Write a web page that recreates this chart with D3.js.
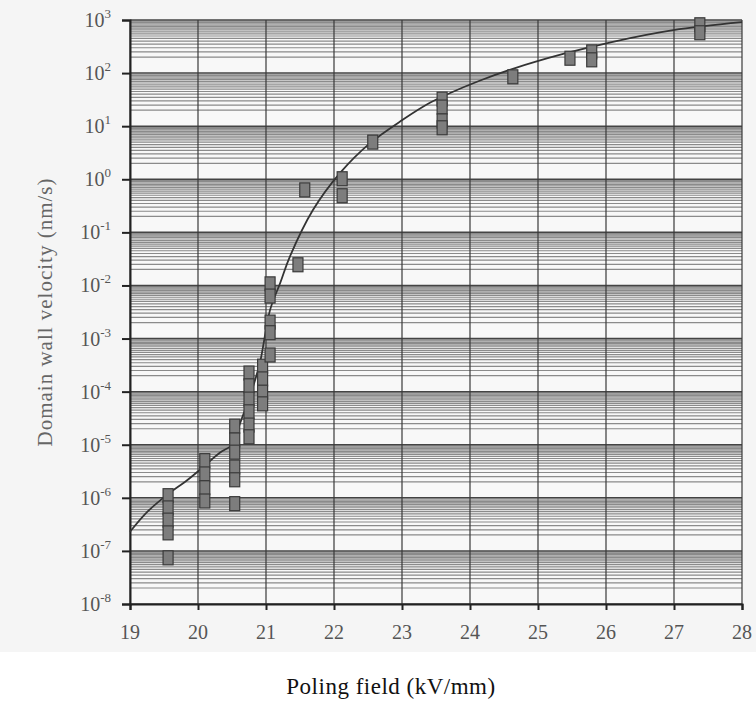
<!DOCTYPE html>
<html>
<head>
<meta charset="utf-8">
<script src="https://cdn.jsdelivr.net/npm/d3@7"></script>
<style>
  body { margin: 0; background: #fff; }
  text { font-family: 'Liberation Serif', 'DejaVu Serif', serif; }
</style>
</head>
<body>
<div id="chart"></div>
<script>
// measured points: poling field (kV/mm) and log10 of velocity (nm/s)
var pointField = [
  19.56, 19.56, 19.56, 19.56, 19.56,
  20.10, 20.10, 20.10, 20.10,
  20.54, 20.54, 20.54, 20.54, 20.54, 20.54,
  20.75, 20.75, 20.75, 20.75, 20.75, 20.75,
  20.95, 20.95, 20.95, 20.95,
  21.06, 21.06, 21.06, 21.06, 21.06,
  21.47, 21.57, 22.12, 22.12, 22.57,
  23.59, 23.59, 23.59, 23.59,
  24.63, 25.47, 25.79, 25.79, 27.38, 27.38
]
var pointLogV = [
  -5.96, -6.19, -6.42, -6.66, -7.13,
  -5.30, -5.55, -5.81, -6.06,
  -4.65, -4.91, -5.14, -5.42, -5.66, -6.11,
  -3.65, -3.89, -4.14, -4.38, -4.63, -4.85,
  -3.52, -3.76, -4.01, -4.23,
  -1.97, -2.20, -2.69, -2.89, -3.31,
  -1.61, -0.20, 0.01, -0.31, 0.70,
  1.51, 1.36, 1.10, 0.97,
  1.93, 2.28, 2.40, 2.25, 2.91, 2.76
]

// fitted curve
var curveField = [19.00, 19.25, 19.54, 19.84, 20.03, 20.32, 20.50, 20.62, 20.76, 20.91,
  21.06, 21.21, 21.35, 21.69, 22.09, 22.53, 23.01, 23.41, 23.70, 24.15, 24.63, 25.37,
  26.10, 26.99, 28.00]
var curveLogV = [-6.64, -6.27, -5.95, -5.67, -5.47, -5.15, -5.00, -4.59, -4.10, -3.46,
  -2.46, -1.95, -1.46, -0.58, 0.12, 0.68, 1.12, 1.44, 1.62, 1.86, 2.08, 2.36,
  2.59, 2.81, 2.96]

var xTicks = [19, 20, 21, 22, 23, 24, 25, 26, 27, 28]
var yExponents = [3, 2, 1, 0, -1, -2, -3, -4, -5, -6, -7, -8]

var svgWidth = 756
var svgHeight = 705

var margin = { top: 20, right: 14, bottom: 101, left: 130 }
var width = svgWidth - margin.left - margin.right
var height = svgHeight - margin.top - margin.bottom

var svg = d3.select('#chart')
  .append('svg')
  .attr('width', svgWidth)
  .attr('height', svgHeight)

// scanned page tint
svg.append('rect')
  .attr('width', svgWidth)
  .attr('height', 652)
  .attr('fill', '#f5f5f5')

var chartGroup = svg.append('g')
  .attr('transform', `translate(${margin.left}, ${margin.top})`)

var x = d3.scaleLinear().domain([19, 28]).range([0, width])
var y = d3.scaleLog().domain([1e-8, 1e3]).range([height, 0])

chartGroup.append('rect')
  .attr('width', width)
  .attr('height', height)
  .attr('fill', '#f8f8f8')

// minor horizontal grid, dense near the top of each decade
var minorVals = []
for (var e = -8; e < 3; e++) {
  for (var m = 2; m < 10; m += 0.5) {
    minorVals.push(m * Math.pow(10, e))
  }
}
chartGroup.append('g')
  .selectAll('line')
  .data(minorVals)
  .enter()
  .append('line')
  .attr('x1', 0)
  .attr('x2', width)
  .attr('y1', d => y(d))
  .attr('y2', d => y(d))
  .attr('stroke', '#6f6f6f')
  .attr('stroke-width', 1.2)
  .attr('stroke-opacity', 0.8)

// decade lines
chartGroup.append('g')
  .selectAll('line')
  .data(yExponents)
  .enter()
  .append('line')
  .attr('x1', 0)
  .attr('x2', width)
  .attr('y1', d => y(Math.pow(10, d)))
  .attr('y2', d => y(Math.pow(10, d)))
  .attr('stroke', '#444')
  .attr('stroke-width', 1.5)

// vertical grid
chartGroup.append('g')
  .selectAll('line')
  .data(xTicks)
  .enter()
  .append('line')
  .attr('x1', d => x(d))
  .attr('x2', d => x(d))
  .attr('y1', 0)
  .attr('y2', height)
  .attr('stroke', '#3a3a3a')
  .attr('stroke-width', 1.2)

// axes
var bottomAxis = d3.axisBottom(x).tickValues(xTicks).tickSize(6).tickFormat('')
var leftAxis = d3.axisLeft(y).tickValues(yExponents.map(d => Math.pow(10, d))).tickSize(8).tickFormat('')

chartGroup.append('g')
  .attr('transform', `translate(0, ${height})`)
  .call(bottomAxis)
chartGroup.append('g')
  .call(leftAxis)

chartGroup.selectAll('.domain').attr('stroke', '#222').attr('stroke-width', 2)
chartGroup.selectAll('.tick line').attr('stroke', '#222').attr('stroke-width', 2)

// x tick labels
chartGroup.selectAll('.xlab')
  .data(xTicks)
  .enter()
  .append('text')
  .attr('x', d => x(d))
  .attr('y', height + 35)
  .style('text-anchor', 'middle')
  .style('font-size', '20px')
  .style('fill', '#555')
  .text(d => d)

// y tick labels, 10 with superscript exponent
var yLab = chartGroup.selectAll('.ylab')
  .data(yExponents)
  .enter()
  .append('text')
  .attr('x', -19)
  .attr('y', d => y(Math.pow(10, d)) + 7)
  .style('text-anchor', 'end')
  .style('font-size', '20px')
  .style('fill', '#555')
yLab.append('tspan').text('10')
yLab.append('tspan')
  .attr('dy', -9)
  .style('font-size', '13px')
  .text(d => d < 0 ? '-' + (-d) : d)

// fitted curve
var curveData = curveField.map((d, i) => ({ f: d, v: Math.pow(10, curveLogV[i]) }))
var line = d3.line()
  .x(d => x(d.f))
  .y(d => y(d.v))
  .curve(d3.curveCatmullRom.alpha(0.5))

chartGroup.append('path')
  .datum(curveData)
  .attr('d', line)
  .attr('fill', 'none')
  .attr('stroke', '#333')
  .attr('stroke-width', 1.8)

// data markers
var pointData = pointField.map((d, i) => ({ f: d, v: Math.pow(10, pointLogV[i]) }))
chartGroup.selectAll('.pt')
  .data(pointData)
  .enter()
  .append('rect')
  .attr('x', d => x(d.f) - 5)
  .attr('y', d => y(d.v) - 7)
  .attr('width', 10)
  .attr('height', 14)
  .attr('fill', '#7d7d7d')
  .attr('stroke', '#3a3a3a')
  .attr('stroke-width', 1.2)

// axis titles
svg.append('text')
  .attr('transform', `translate(52, ${margin.top + height / 2}) rotate(-90)`)
  .style('text-anchor', 'middle')
  .style('font-size', '21px')
  .style('letter-spacing', '1px')
  .style('fill', '#666')
  .text('Domain wall velocity (nm/s)')

svg.append('text')
  .attr('x', 391)
  .attr('y', 694)
  .style('text-anchor', 'middle')
  .style('font-size', '23px')
  .style('letter-spacing', '0.5px')
  .style('fill', '#111')
  .text('Poling field (kV/mm)')
</script>
</body>
</html>
